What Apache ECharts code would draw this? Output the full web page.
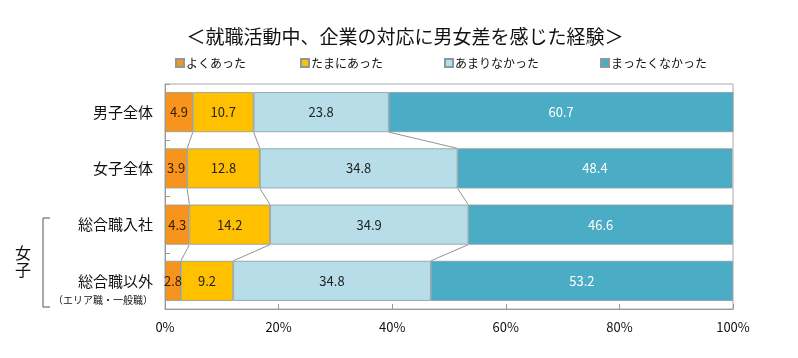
<!DOCTYPE html>
<html><head><meta charset="utf-8">
<script src="https://cdn.jsdelivr.net/npm/echarts@6/dist/echarts.min.js"></script>
<style>html,body{margin:0;padding:0;background:#fff}#c{width:798px;height:358px}</style>
</head><body><div id="c"></div>
<script>
const categories = ['男子全体', '女子全体', '総合職入社', '総合職以外'];
const seriesNames = ['よくあった', 'たまにあった', 'あまりなかった', 'まったくなかった'];
const yokuAtta = [4.9, 3.9, 4.3, 2.8];
const tamaniAtta = [10.7, 12.8, 14.2, 9.2];
const amariNakatta = [23.8, 34.8, 34.9, 34.8];
const mattakuNakatta = [60.7, 48.4, 46.6, 53.2];
const xTicks = ['0%', '20%', '40%', '60%', '80%', '100%'];
const colors = ['#F7941D', '#FFC000', '#B7DDE8', '#4BACC6'];
const labelColors = ['#3a1a00', '#222', '#222', '#ffffff'];

const allData = [yokuAtta, tamaniAtta, amariNakatta, mattakuNakatta];
// connector data: [rowIndex, cumulative on row, cumulative on next row]
const connectors = [];
for (let r = 0; r < categories.length - 1; r++) {
  let c1 = 0, c2 = 0;
  for (let s = 0; s < 3; s++) {
    c1 += allData[s][r]; c2 += allData[s][r + 1];
    connectors.push([r, c1, c2]);
  }
}

const chart = echarts.init(document.getElementById('c'));
const FONT = '"Noto Sans CJK JP", sans-serif';
const legendLefts = [170, 295, 439, 595];

const option = {
  animation: false,
  title: {
    text: '＜就職活動中、企業の対応に男女差を感じた経験＞',
    left: 400, top: 22, textAlign: 'center',
    textStyle: { fontFamily: FONT, fontSize: 19, fontWeight: 'normal', color: '#111' }
  },
  legend: seriesNames.map((n, i) => ({
    data: [n], left: legendLefts[i], top: 52,
    itemWidth: 8, itemHeight: 8, itemGap: 2,
    icon: 'rect',
    textStyle: { fontFamily: FONT, fontSize: 12, color: '#111', padding: [0, 0, 0, -3] }
  })),
  grid: { left: 165, right: 65, top: 84, bottom: 49, show: true, borderColor: '#aaa', borderWidth: 1 },
  xAxis: {
    type: 'value', min: 0, max: 100, interval: 20,
    axisLine: { show: true, lineStyle: { color: '#999' } },
    axisTick: { show: true, inside: true, length: 5, lineStyle: { color: '#999' } },
    splitLine: { show: false },
    axisLabel: {
      margin: 12, fontFamily: FONT, fontSize: 13, color: '#111',
      formatter: v => xTicks[Math.round(v / 20)]
    }
  },
  yAxis: {
    type: 'category', data: categories, inverse: true,
    axisLine: { show: true, lineStyle: { color: '#999' } },
    axisTick: { show: true, inside: true, length: 5, lineStyle: { color: '#999' } },
    axisLabel: {
      margin: 12, fontFamily: FONT, fontSize: 15, color: '#111',
      formatter: (v, i) => i === 3 ? '{z| }\n{a|' + v + '}\n{b|（エリア職・一般職）}' : v,
      rich: {
        z: { fontFamily: FONT, fontSize: 10, lineHeight: 19, align: 'right' },
        a: { fontFamily: FONT, fontSize: 15, color: '#111', lineHeight: 19, align: 'right' },
        b: { fontFamily: FONT, fontSize: 10, color: '#111', lineHeight: 19, align: 'right' }
      }
    }
  },
  series: seriesNames.map((n, i) => ({
    name: n, type: 'bar', stack: 'total', barWidth: 40,
    data: allData[i],
    itemStyle: { color: colors[i], borderColor: '#8a9aa0', borderWidth: 0.8 },
    label: {
      show: true, position: 'inside', fontFamily: FONT, fontSize: 13,
      color: labelColors[i], formatter: p => p.value.toFixed(1)
    }
  })).concat([{
    type: 'custom', data: connectors, silent: true, z: 1,
    encode: { x: [1, 2], y: 0 },
    renderItem: (params, api) => {
      const r = api.value(0);
      const p1 = api.coord([api.value(1), r]);
      const p2 = api.coord([api.value(2), r + 1]);
      const half = 20;
      return {
        type: 'line',
        shape: { x1: p1[0], y1: p1[1] + half, x2: p2[0], y2: p2[1] - half },
        style: { stroke: '#777', lineWidth: 0.8 }
      };
    }
  }]),
  graphic: [
    { type: 'polyline', shape: { points: [[50, 218], [43, 218], [43, 307], [50, 307]] },
      style: { stroke: '#555', lineWidth: 1, fill: null } },
    { type: 'text', left: 15, top: 244,
      style: { text: '女\n子', fontFamily: FONT, fontSize: 16, lineHeight: 17, fill: '#111' } }
  ]
};
chart.setOption(option);
</script>
</body></html>
